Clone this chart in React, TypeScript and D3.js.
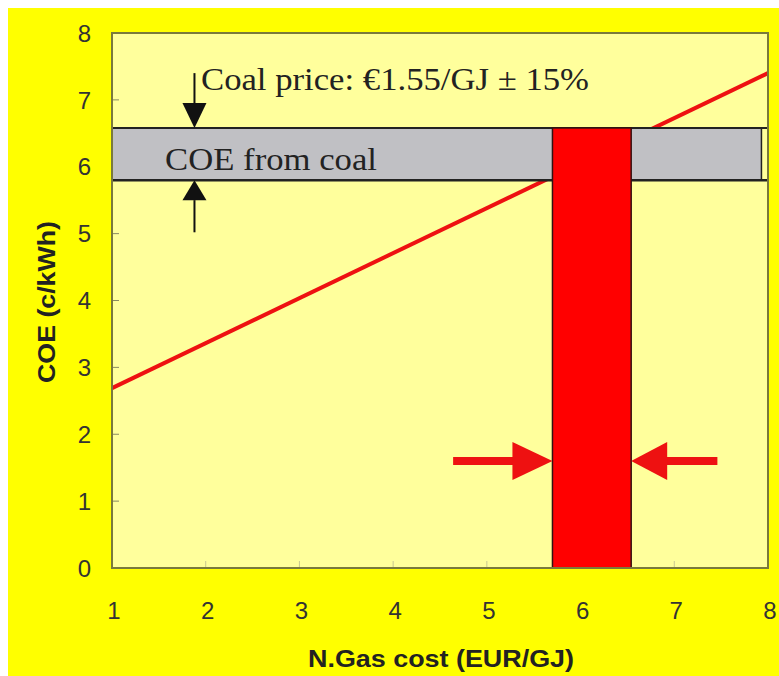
import React from "react";
import * as d3 from "d3";

const xTicks = [1, 2, 3, 4, 5, 6, 7, 8];
const yTicks = [0, 1, 2, 3, 4, 5, 6, 7, 8];
const gasCost = [1, 8];
const coeGas = [2.69, 7.4];
const coalBand = [5.8, 6.58];
const coalBandX = [1, 7.93];
const gasRange = [5.7, 6.54];
const blackArrowX = 1.88;
const blackArrowEnds = [7.4, 5.02];
const redArrowY = 1.6;
const redArrowEnds = [4.64, 7.46];

const W = 779, H = 676;
const L = 112, R = 768, T = 33, B = 568;

export default function App() {
  const x = d3.scaleLinear().domain([1, 8]).range([L, R]);
  const y = d3.scaleLinear().domain([0, 8]).range([B, T]);
  const line = d3.line<number>().x((d, i) => x(gasCost[i])).y((d) => y(d));
  const sans = "'Liberation Sans', Arial, sans-serif";
  const serif = "'Liberation Serif', 'Times New Roman', serif";
  const ax = x(blackArrowX);
  const ry = y(redArrowY);
  return (
    <svg width={W} height={H} style={{ position: "absolute", left: 0, top: 0 }}>
      <rect x={0} y={0} width={W} height={H} fill="#fff" />
      <rect x={8} y={8} width={W - 8} height={H - 8} fill="#ffff00" />
      <rect x={L} y={T} width={R - L} height={B - T} fill="#ffff9c" />
      {/* ticks */}
      {yTicks.slice(1, -1).map((t) => (
        <line key={"yt" + t} x1={L} x2={L + 7} y1={y(t)} y2={y(t)} stroke="#8a8a60" strokeWidth={1} />
      ))}
      {xTicks.slice(1, -1).map((t) => (
        <line key={"xt" + t} x1={x(t)} x2={x(t)} y1={B} y2={B - 7} stroke="#c8c890" strokeWidth={1} />
      ))}
      {/* gas line */}
      <path d={line(coeGas) || ""} fill="none" stroke="#ee1111" strokeWidth={4} />
      {/* coal band */}
      <rect x={x(coalBandX[0])} y={y(coalBand[1])} width={x(coalBandX[1]) - x(coalBandX[0])} height={y(coalBand[0]) - y(coalBand[1])} fill="#c0c0c4" stroke="#222" strokeWidth={1.5} />
      <line x1={L} x2={R} y1={y(coalBand[1])} y2={y(coalBand[1])} stroke="#222" strokeWidth={2} />
      <line x1={L} x2={R} y1={y(coalBand[0])} y2={y(coalBand[0])} stroke="#222" strokeWidth={2.5} />
      {/* gas range bar */}
      <rect x={x(gasRange[0])} y={y(coalBand[1])} width={x(gasRange[1]) - x(gasRange[0])} height={B - y(coalBand[1])} fill="#ff0000" stroke="#331111" strokeWidth={1.5} />
      {/* plot border */}
      <rect x={L} y={T} width={R - L} height={B - T} fill="none" stroke="#7a7a3c" strokeWidth={2} />
      {/* black arrows */}
      <line x1={ax} x2={ax} y1={y(blackArrowEnds[0])} y2={y(coalBand[1]) - 20} stroke="#111" strokeWidth={2} />
      <path d={`M${ax - 12},${y(coalBand[1]) - 25} L${ax + 12},${y(coalBand[1]) - 25} L${ax},${y(coalBand[1])} Z`} fill="#111" />
      <line x1={ax} x2={ax} y1={y(blackArrowEnds[1])} y2={y(coalBand[0]) + 20} stroke="#111" strokeWidth={2} />
      <path d={`M${ax - 12},${y(coalBand[0]) + 20} L${ax + 12},${y(coalBand[0]) + 20} L${ax},${y(coalBand[0])} Z`} fill="#111" />
      {/* red arrows */}
      <line x1={x(redArrowEnds[0])} x2={x(gasRange[0]) - 36} y1={ry} y2={ry} stroke="#ee1111" strokeWidth={8} />
      <path d={`M${x(gasRange[0]) - 40},${ry - 19} L${x(gasRange[0])},${ry} L${x(gasRange[0]) - 40},${ry + 19} Z`} fill="#ee1111" />
      <line x1={x(redArrowEnds[1])} x2={x(gasRange[1]) + 32} y1={ry} y2={ry} stroke="#ee1111" strokeWidth={8} />
      <path d={`M${x(gasRange[1]) + 36},${ry - 19} L${x(gasRange[1])},${ry} L${x(gasRange[1]) + 36},${ry + 19} Z`} fill="#ee1111" />
      {/* annotations */}
      <text x={201} y={90} fontFamily={serif} fontSize={31} fill="#222" textLength={388} lengthAdjust="spacingAndGlyphs">Coal price: €1.55/GJ ± 15%</text>
      <text x={165} y={170} fontFamily={serif} fontSize={31} fill="#222" textLength={212} lengthAdjust="spacingAndGlyphs">COE from coal</text>
      {/* tick labels */}
      {yTicks.map((t) => (
        <text key={"yl" + t} x={91} y={y(t)} dy="0.36em" textAnchor="end" fontFamily={sans} fontSize={24} fill="#333">{t}</text>
      ))}
      {xTicks.map((t) => (
        <text key={"xl" + t} x={x(t) + 2} y={610} dy="0.36em" textAnchor="middle" fontFamily={sans} fontSize={24} fill="#333">{t}</text>
      ))}
      <text x={441} y={667} textAnchor="middle" fontFamily={sans} fontWeight="bold" fontSize={23} fill="#222" textLength={266} lengthAdjust="spacingAndGlyphs">N.Gas cost (EUR/GJ)</text>
      <text transform={`translate(55,302) rotate(-90)`} textAnchor="middle" fontFamily={sans} fontWeight="bold" fontSize={24} fill="#222" textLength={162} lengthAdjust="spacingAndGlyphs">COE (c/kWh)</text>
    </svg>
  );
}
